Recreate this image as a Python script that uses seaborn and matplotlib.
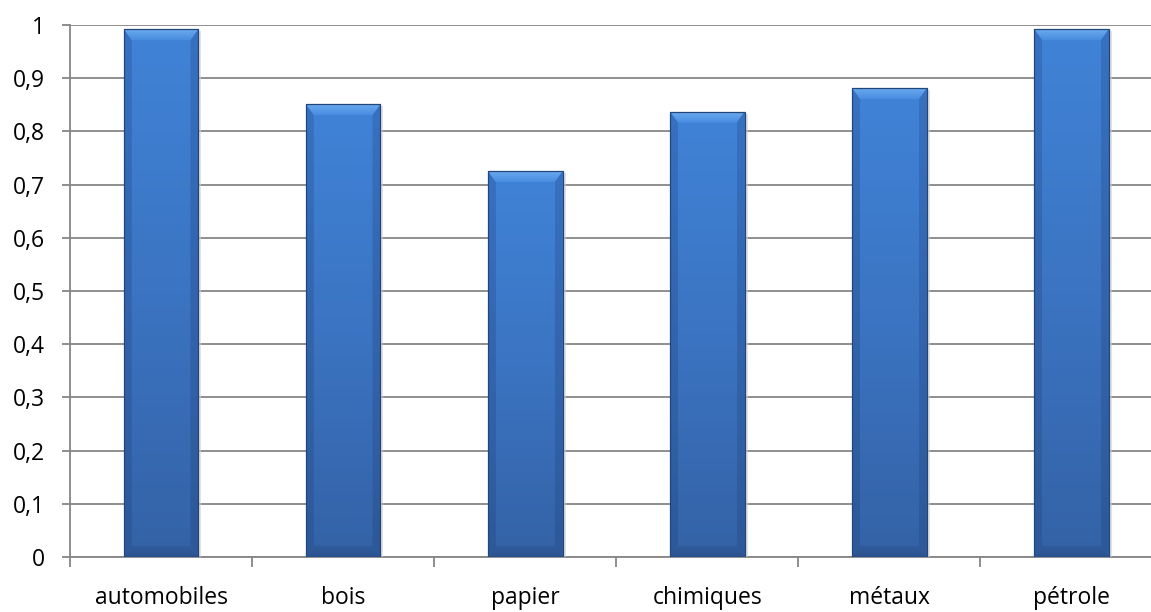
import numpy as np
import pandas as pd
import matplotlib
matplotlib.use("Agg")
import matplotlib.pyplot as plt
import seaborn as sns
from matplotlib.colors import LinearSegmentedColormap
from matplotlib.patches import Polygon

categories = ["automobiles", "bois", "papier", "chimiques", "métaux", "pétrole"]
values = [0.992, 0.851, 0.725, 0.837, 0.881, 0.992]
yticks = [0, 0.1, 0.2, 0.3, 0.4, 0.5, 0.6, 0.7, 0.8, 0.9, 1.0]
ytick_labels = ["0", "0,1", "0,2", "0,3", "0,4", "0,5", "0,6", "0,7", "0,8", "0,9", "1"]

sns.set_theme(style="white")
plt.rcParams["font.family"] = ["Open Sans", "DejaVu Sans"]

df = pd.DataFrame({"cat": categories, "val": values})

W, H = 1151, 612
fig = plt.figure(figsize=(W / 100, H / 100), dpi=100)
ax_w_px = 1092.6
ax_h_px = 532
ax = fig.add_axes([70 / W, (H - 557) / H, ax_w_px / W, ax_h_px / H])

sns.barplot(data=df, x="cat", y="val", color="#3f7fd0", width=0.41,
            edgecolor="#23467a", linewidth=0.9, ax=ax, zorder=3)

ax.set_xlim(-0.5, len(categories) - 0.5)
ax.set_ylim(0, 1)

# pixel -> data conversions for bevel
px_x = (len(categories)) / ax_w_px
px_y = 1.0 / ax_h_px
bx, by = 8 * px_x, 11 * px_y

face = LinearSegmentedColormap.from_list("f", ["#3462a6", "#3b74c2", "#4083d7"])
topc = LinearSegmentedColormap.from_list("t", ["#4a8fe2", "#74b2f4"])
sidec = LinearSegmentedColormap.from_list("s", ["#2c5797", "#376ebd"])
botc = LinearSegmentedColormap.from_list("b", ["#2a508b", "#305b9a"])
grad = np.linspace(0, 1, 256).reshape(-1, 1)

for p in list(ax.patches):
    x0, y0 = p.get_x(), p.get_y()
    w, h = p.get_width(), p.get_height()
    x1, top = x0 + w, y0 + h
    # soft shadow to the right
    ax.fill_between([x1, x1 + 3 * px_x], y0, top - 2 * px_y, color="#cfcfcf", alpha=0.6,
                    lw=0, zorder=2.9)
    im = ax.imshow(grad, cmap=face, aspect="auto", origin="lower",
                   extent=[x0, x1, y0, top], zorder=3.2)
    im.set_clip_path(p)
    polys = [
        ([(x0, top), (x1, top), (x1 - bx, top - by), (x0 + bx, top - by)], topc, [x0, x1, top - by, top]),
        ([(x0, top), (x0 + bx, top - by), (x0 + bx, y0 + by), (x0, y0)], sidec, [x0, x0 + bx, y0, top]),
        ([(x1, top), (x1 - bx, top - by), (x1 - bx, y0 + by), (x1, y0)], sidec, [x1 - bx, x1, y0, top]),
        ([(x0, y0), (x0 + bx, y0 + by), (x1 - bx, y0 + by), (x1, y0)], botc, [x0, x1, y0, y0 + by]),
    ]
    for verts, cm, ext in polys:
        poly = Polygon(verts, closed=True, facecolor="none", edgecolor="none", zorder=3.3)
        ax.add_patch(poly)
        im2 = ax.imshow(grad, cmap=cm, aspect="auto", origin="lower", extent=ext,
                        zorder=3.3, alpha=0.85)
        im2.set_clip_path(poly)
    p.set_facecolor("none")
    p.set_zorder(3.8)

ax.set_xlim(-0.5, len(categories) - 0.5)
ax.set_ylim(0, 1)
ax.set_yticks(yticks)
ax.set_yticklabels(ytick_labels)
ax.set_xlabel("")
ax.set_ylabel("")

ax.yaxis.grid(True, color="#868686", linewidth=1.3, zorder=0)
ax.set_axisbelow(True)
for s in ["top", "right"]:
    ax.spines[s].set_visible(False)
for s in ["left", "bottom"]:
    ax.spines[s].set_color("#868686")
    ax.spines[s].set_linewidth(1.3)

ax.set_xticks(np.arange(-0.5, len(categories), 1.0), minor=True)
ax.tick_params(axis="x", which="minor", length=7, width=1.3, color="#868686", direction="out", bottom=True)
ax.tick_params(axis="x", which="major", length=0, pad=21, labelsize=16.5, labelcolor="#000000")
ax.tick_params(axis="y", which="major", length=6, width=1.3, color="#868686", direction="out", left=True,
               pad=12, labelsize=16.5, labelcolor="#000000")

fig.savefig("out.png", dpi=100)
